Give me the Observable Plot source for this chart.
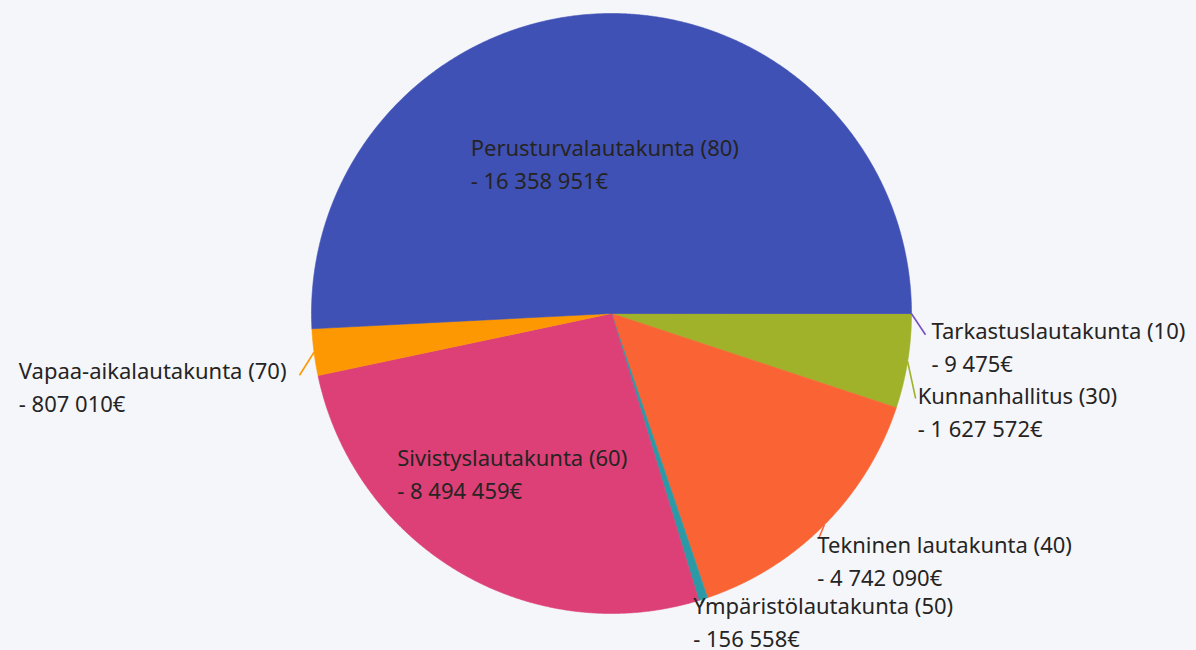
<!DOCTYPE html>
<html><head><meta charset="utf-8">
<script src="https://cdn.jsdelivr.net/npm/d3@7"></script>
<script src="https://cdn.jsdelivr.net/npm/@observablehq/plot@0.6"></script>
<style>html,body{margin:0;padding:0;background:#f5f6fa;} #chart{width:1196px;height:650px;overflow:hidden;}</style>
</head><body><div id="chart"></div>
<script>
// ---- data ----
const names = ["Tarkastuslautakunta (10)", "Kunnanhallitus (30)", "Tekninen lautakunta (40)", "Ympäristölautakunta (50)", "Sivistyslautakunta (60)", "Vapaa-aikalautakunta (70)", "Perusturvalautakunta (80)"];
const values = [9475, 1627572, 4742090, 156558, 8494459, 807010, 16358951];
const colors = ["#744ec2", "#a0b12a", "#fa6435", "#2b9aa6", "#dc4076", "#fe9802", "#4051b5"];

// ---- layout (not data) ----
const W = 1196, H = 650, cx = 611, cy = 313, R = 300;
const FS = 22, LH = 1.5, FONT = "'Noto Sans', sans-serif";
const labelLayout = [
  {leader: [14, 21], label: [6, -11], anchor: "start"},
  {leader: [8, 37], label: [2, -10], anchor: "start"},
  {leader: [-5, 12], label: [-2, 0], anchor: "start"},
  {leader: [-2, 4], label: [-8, -5], anchor: "start"},
  {inside: 150, label: [-138, 8], anchor: "start"},
  {leader: [-14.5, 23], label: [-13, -12], anchor: "end"},
  {inside: 150, label: [-137, -23], anchor: "start"}
];

const fiLocale = d3.formatLocale({decimal: ",", thousands: " ", grouping: [3], currency: ["", "€"]});
const fmt = fiLocale.format(",d");

const ctx = document.createElement("canvas").getContext("2d");
ctx.font = `${FS}px ${FONT}`;
const textW = s => ctx.measureText(s).width;

const rows = names.map((n, i) => ({name: n, value: values[i], color: colors[i], i}));
const arcs = d3.pie().sort(null).value(d => d.value).startAngle(Math.PI / 2).endAngle(Math.PI / 2 + 2 * Math.PI)(rows);

const pt = (a, r) => [cx + r * Math.sin(a), cy - r * Math.cos(a)];

// slice polygons
const poly = [];
arcs.forEach(a => {
  const c = {name: a.data.name, color: a.data.color};
  poly.push({...c, x: cx, y: cy});
  const n = Math.max(2, Math.ceil((a.endAngle - a.startAngle) / (Math.PI / 720)));
  for (let k = 0; k <= n; k++) {
    const ang = a.startAngle + (a.endAngle - a.startAngle) * k / n;
    const [x, y] = pt(ang, R);
    poly.push({...c, x, y});
  }
  poly.push({...c, x: cx, y: cy});
});

// Plot puts the first baseline at 0.71*lineHeight em below y; shift so that y is the cap top
const capShift = (0.71 * LH - 0.714) * FS;

const leaders = [];
const labels = [];
arcs.forEach((a, i) => {
  const L = labelLayout[i];
  const mid = (a.startAngle + a.endAngle) / 2;
  const text = `${a.data.name}\n- ${fmt(a.data.value)}€`;
  let bx, by;
  if (L.inside) {
    const [x, y] = pt(mid, L.inside);
    bx = x + L.label[0]; by = y + L.label[1];
  } else {
    const [x1, y1] = pt(mid, R);
    const x2 = x1 + L.leader[0], y2 = y1 + L.leader[1];
    leaders.push({x1, y1, x2, y2, color: a.data.color});
    bx = x2 + L.label[0]; by = y2 + L.label[1];
  }
  if (L.anchor === "end") bx -= textW(a.data.name);
  labels.push({x: bx, y: by - capShift, text});
});

const chart = Plot.plot({
  width: W, height: H, margin: 0,
  x: {domain: [0, W], range: [0, W], axis: null},
  y: {domain: [0, H], range: [0, H], axis: null},
  color: {type: "identity"},
  style: {background: "#f5f6fa", fontFamily: FONT},
  marks: [
    Plot.line(poly, {x: "x", y: "y", z: "name", fill: "color", stroke: "color", strokeWidth: 0.6, curve: "linear"}),
    Plot.link(leaders, {x1: "x1", y1: "y1", x2: "x2", y2: "y2", stroke: "color", strokeWidth: 1.6}),
    Plot.text(labels, {x: "x", y: "y", text: "text", textAnchor: "start", lineAnchor: "top", fontSize: FS, lineHeight: LH, fill: "#252423"})
  ]
});
document.getElementById("chart").appendChild(chart);
</script>
</body></html>
